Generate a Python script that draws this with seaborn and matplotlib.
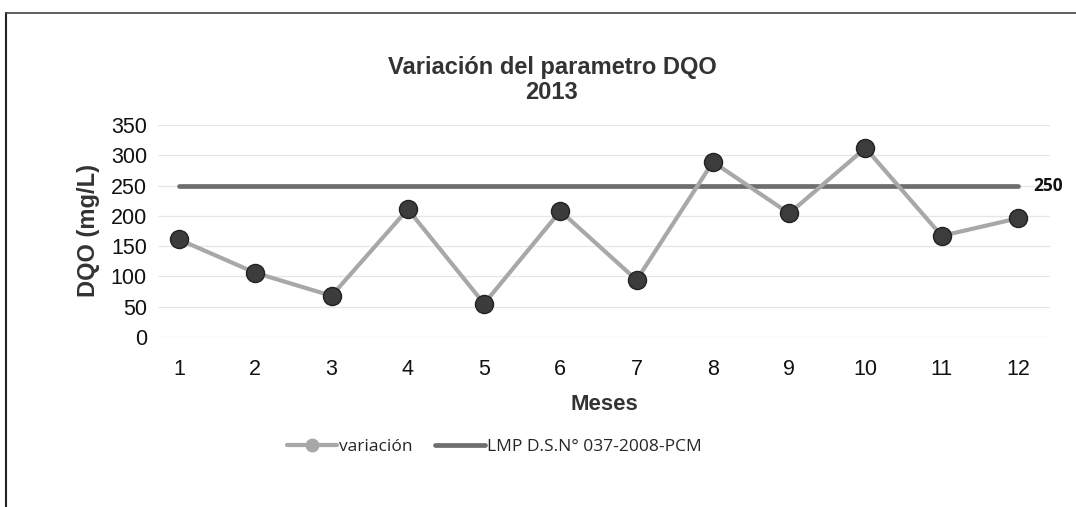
import matplotlib
matplotlib.use("Agg")
import matplotlib.pyplot as plt
from matplotlib.lines import Line2D
import seaborn as sns
import pandas as pd

# ---- data ----
months = [1, 2, 3, 4, 5, 6, 7, 8, 9, 10, 11, 12]
dqo = [161, 106, 68, 211, 55, 208, 94, 289, 204, 312, 167, 196]
lmp = [250, 250, 250, 250, 250, 250, 250, 250, 250, 250, 250, 250]
y_ticks = [0, 50, 100, 150, 200, 250, 300, 350]
title = "Variación del parametro DQO\n2013"
series_names = ["variación", "LMP D.S.N° 037-2008-PCM"]

sns.set_theme(style="white")
plt.rcParams["font.family"] = ["Liberation Sans", "DejaVu Sans"]

W, H = 1076, 507
fig = plt.figure(figsize=(W / 100, H / 100), dpi=100)
left_px, right_px = 158, 1050
ax = fig.add_axes([left_px / W, 1 - 337 / H, (right_px - left_px) / W, (337 - 125) / H])

df = pd.DataFrame({"mes": months, "dqo": dqo, "lmp": lmp})

c_var = "#a8a8a8"
c_lmp = "#6e6e6e"
c_mark = "#3c3c3c"

sns.lineplot(data=df, x="mes", y="lmp", ax=ax, color=c_lmp, linewidth=3.4,
             zorder=2, legend=False)
sns.lineplot(data=df, x="mes", y="dqo", ax=ax, color=c_var, linewidth=3.0,
             marker="o", markersize=13, markerfacecolor=c_mark,
             markeredgecolor="#222222", markeredgewidth=1.0, zorder=3,
             legend=False)

step = (1018 - 179) / 11.0
ax.set_xlim(1 + (left_px - 179) / step, 1 + (right_px - 179) / step)
ax.set_ylim(0, 350)
ax.set_yticks(y_ticks)
ax.set_xticks(months)
ax.set_xticklabels([str(m) for m in months])
ax.yaxis.grid(True, color="#e6e6e6", linewidth=0.9)
ax.xaxis.grid(False)
for s in ax.spines.values():
    s.set_visible(False)
ax.tick_params(axis="both", length=0, labelsize=15.5, colors="#111111")
ax.tick_params(axis="y", pad=8)
ax.tick_params(axis="x", pad=16)

ax.set_xlabel("Meses", fontsize=16, fontweight="bold", color="#333333", labelpad=10)
ax.set_ylabel("DQO (mg/L)", fontsize=17, fontweight="bold", color="#333333", labelpad=8)

# label for the limit line
ax.text(12.2, lmp[-1], str(lmp[-1]), fontsize=12.5, fontweight="bold",
        family=["Open Sans", "DejaVu Sans"], va="center", ha="left", color="#111111")

# title
fig.text(552 / W, 1 - 80 / H, title, ha="center", va="center", fontsize=17,
         fontweight="bold", color="#333333", linespacing=1.1)

# legend
handles = [
    Line2D([0], [0], color=c_var, lw=3, marker="o", markersize=9,
           markerfacecolor=c_var, markeredgecolor=c_var),
    Line2D([0], [0], color=c_lmp, lw=3.4),
]
fig.legend(handles, series_names, loc="center", bbox_to_anchor=(494 / W, 1 - 447 / H),
           ncol=2, frameon=False, handlelength=2.9, handletextpad=0.1,
           columnspacing=1.3, prop={"family": ["Open Sans", "DejaVu Sans"], "size": 12.5})

# chart-area frame (left and top edges visible)
fig.add_artist(Line2D([6 / W, 6 / W], [0, 1 - 13 / H], transform=fig.transFigure,
                      color="#222222", lw=1.5))
fig.add_artist(Line2D([6 / W, 1], [1 - 13 / H, 1 - 13 / H], transform=fig.transFigure,
                      color="#444444", lw=1.2))

fig.savefig("out.png", dpi=100)
